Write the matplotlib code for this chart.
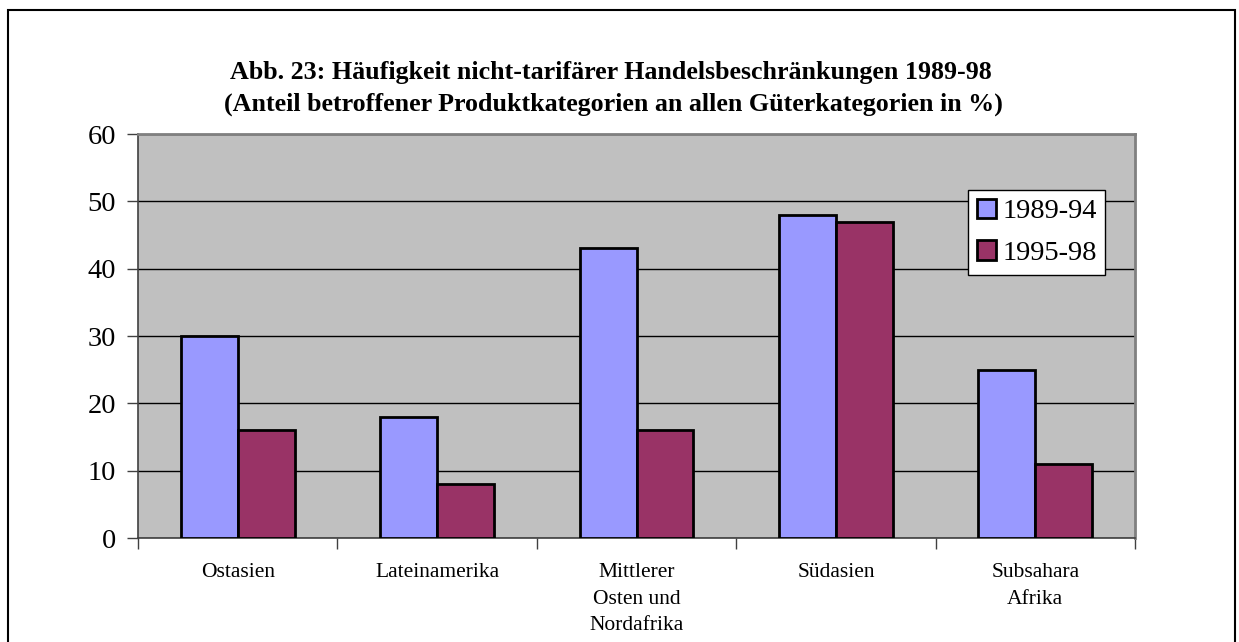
import numpy as np
import matplotlib.pyplot as plt
from matplotlib.patches import Rectangle

# data
regions = ['Ostasien', 'Lateinamerika', 'Mittlerer\nOsten und\nNordafrika', 'Südasien', 'Subsahara\nAfrika']
values_8994 = [30, 18, 43, 48, 25]
values_9598 = [16, 8, 16, 47, 11]
series_names = ['1989-94', '1995-98']

plt.rcParams['font.family'] = ['Liberation Serif', 'DejaVu Serif']

fig = plt.figure(figsize=(12.39, 6.42), dpi=100)
ax = fig.add_axes([138/1239, 104/642, (1135-138)/1239, (538-134)/642])

# outer frame of the chart object (bottom edge cut off in the source)
fig.add_artist(Rectangle((8/1239, -0.05), (1235-8)/1239, (632/642) + 0.05,
                         transform=fig.transFigure, fill=False,
                         edgecolor='black', linewidth=1.5))

x = np.arange(len(regions))
w = 0.571 / 2
ax.set_facecolor('#C0C0C0')
ax.bar(x - w/2, values_8994, w, color='#9999FF', edgecolor='black', linewidth=2, label=series_names[0], zorder=3)
ax.bar(x + w/2, values_9598, w, color='#993366', edgecolor='black', linewidth=2, label=series_names[1], zorder=3)

ax.set_xlim(-0.5, len(regions) - 0.5)
ax.set_ylim(0, 60)
ax.set_yticks(range(0, 61, 10))
ax.yaxis.grid(True, color='black', linewidth=1, zorder=1)
ax.set_axisbelow(True)

ax.set_xticks(x)
ax.set_xticklabels(regions, fontsize=15.5, linespacing=1.55)
ax.set_xticks(np.arange(-0.5, len(regions)), minor=True)
ax.tick_params(axis='x', which='major', length=0, pad=18)
ax.tick_params(axis='x', which='minor', length=8, width=1, color='#404040')
ax.tick_params(axis='y', length=8, width=1, color='#404040', labelsize=20.5, pad=8)

for s in ['top', 'right']:
    ax.spines[s].set_color('#808080')
    ax.spines[s].set_linewidth(2)
ax.spines['left'].set_color('#404040')
ax.spines['bottom'].set_color('#404040')
ax.spines['left'].set_linewidth(1.2)
ax.spines['bottom'].set_linewidth(1.2)

leg = ax.legend(loc='upper left', bbox_to_anchor=((968-138)/997, (538-190)/404),
                fontsize=20.5, frameon=True, fancybox=False, shadow=False,
                handlelength=0.7, handleheight=0.7, handletextpad=0.2,
                borderpad=0.3, labelspacing=0.55, borderaxespad=0)
leg.get_frame().set_edgecolor('black')
leg.get_frame().set_linewidth(1)
leg.get_frame().set_facecolor('white')
leg.get_frame().set_alpha(1)

fig.text(0.493, 1 - 72/642, 'Abb. 23: Häufigkeit nicht-tarifärer Handelsbeschränkungen 1989-98',
         ha='center', va='center', fontsize=18.7, fontweight='bold')
fig.text(0.495, 1 - 104/642, '(Anteil betroffener Produktkategorien an allen Güterkategorien in %)',
         ha='center', va='center', fontsize=18.7, fontweight='bold')

plt.savefig('out.png', dpi=100)
